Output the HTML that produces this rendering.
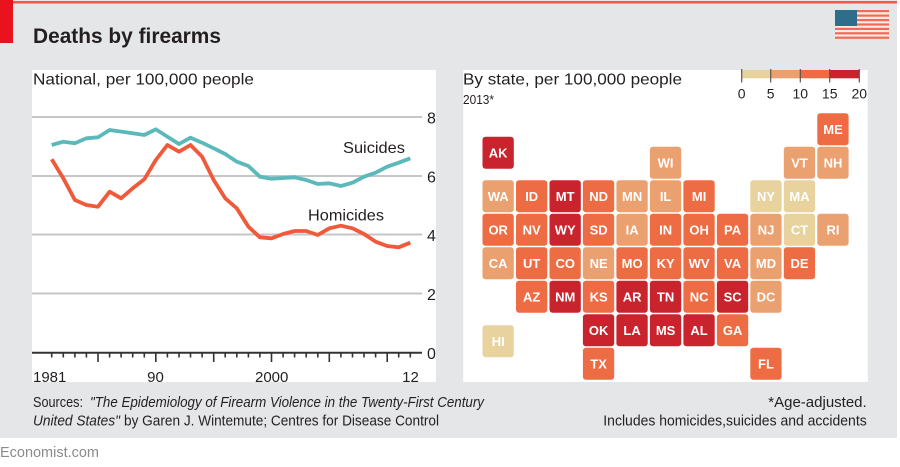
<!DOCTYPE html>
<html><head><meta charset="utf-8"><style>
html,body{margin:0;padding:0;background:#fff;}
svg{display:block;font-family:"Liberation Sans",sans-serif;}
</style></head><body>
<svg width="900" height="467" viewBox="0 0 900 467" xmlns="http://www.w3.org/2000/svg">
<rect x="0" y="0" width="900" height="467" fill="#ffffff"/>
<rect x="0" y="0" width="897" height="438" fill="#e5e6e8"/>
<rect x="0" y="1" width="897" height="2.5" fill="#ef5a4d"/>
<rect x="0" y="0" width="13" height="43" fill="#e8131d"/>
<!-- flag -->
<g>
<rect x="835" y="10" width="54" height="29" fill="#fbe9e5"/>
<g fill="#f06a55">
<rect x="835" y="10" width="54" height="2.2"/><rect x="835" y="14.5" width="54" height="2.2"/><rect x="835" y="19" width="54" height="2.2"/><rect x="835" y="23.4" width="54" height="2.2"/><rect x="835" y="27.8" width="54" height="2.2"/><rect x="835" y="32.2" width="54" height="2.2"/><rect x="835" y="36.6" width="54" height="2.2"/>
</g>
<rect x="835" y="10" width="22" height="16" fill="#2f6d8c"/>
</g>
<text x="33" y="43" font-size="21" font-weight="bold" fill="#231f20" textLength="188" lengthAdjust="spacingAndGlyphs">Deaths by firearms</text>

<!-- left panel -->
<rect x="32" y="70" width="404" height="312" fill="#ffffff"/>
<text x="33" y="84.5" font-size="16" fill="#231f20" textLength="221" lengthAdjust="spacingAndGlyphs">National, per 100,000 people</text>
<g stroke="#c6c6c6" stroke-width="2">
<line x1="32" y1="117" x2="422" y2="117"/>
<line x1="32" y1="176" x2="422" y2="176"/>
<line x1="32" y1="234.5" x2="422" y2="234.5"/>
<line x1="32" y1="293.5" x2="422" y2="293.5"/>
</g>
<g font-size="16" fill="#231f20" text-anchor="middle">
<text x="431.5" y="123.3">8</text>
<text x="431.5" y="182.3">6</text>
<text x="431.5" y="240.8">4</text>
<text x="431.5" y="299.8">2</text>
<text x="431.5" y="358.8">0</text>
</g>
<polyline fill="none" stroke="#5bb8bb" stroke-width="3.8" stroke-linejoin="round" points="51.7,145 63.3,141.7 74.9,143.3 86.4,138.3 98,137.3 109.6,130 121.1,131.6 132.7,133.2 144.3,135 155.8,129.3 167.4,136.7 179,144 190.5,137.7 202.1,142.7 213.7,148.3 225.2,154 236.8,161.7 248.4,166 259.9,176.7 271.5,178.7 283.1,178 294.6,177.3 306.2,180 317.8,184 329.3,183.3 340.9,186 352.5,182.7 364,176.7 375.6,172.7 387.2,166.7 398.7,162.7 410.3,158.3"/>
<polyline fill="none" stroke="#f05a3b" stroke-width="3.8" stroke-linejoin="round" points="51.7,159.3 63.3,178.3 74.9,200 86.4,205 98,206.7 109.6,191.7 121.1,198.3 132.7,188.3 144.3,179.3 155.8,160 167.4,145 179,151.7 190.5,145 202.1,156.7 213.7,180 225.2,198.3 236.8,208.3 248.4,226.7 259.9,237.3 271.5,238.3 283.1,234 294.6,231 306.2,231 317.8,235 329.3,228.3 340.9,225.7 352.5,228.3 364,234 375.6,241.7 387.2,246 398.7,247.3 410.3,242.7"/>
<text x="343" y="153" font-size="16" fill="#231f20" textLength="62" lengthAdjust="spacingAndGlyphs">Suicides</text>
<text x="308" y="220.7" font-size="16" fill="#231f20" textLength="76" lengthAdjust="spacingAndGlyphs">Homicides</text>
<line x1="32" y1="352.7" x2="422" y2="352.7" stroke="#333" stroke-width="2"/>
<g stroke="#333" stroke-width="1.6">
<line x1="51.7" y1="352" x2="51.7" y2="357.5"/><line x1="63.3" y1="352" x2="63.3" y2="357.5"/><line x1="74.9" y1="352" x2="74.9" y2="357.5"/><line x1="86.4" y1="352" x2="86.4" y2="357.5"/><line x1="98" y1="352" x2="98" y2="362"/>
<line x1="109.6" y1="352" x2="109.6" y2="357.5"/><line x1="121.1" y1="352" x2="121.1" y2="357.5"/><line x1="132.7" y1="352" x2="132.7" y2="357.5"/><line x1="144.3" y1="352" x2="144.3" y2="357.5"/><line x1="155.8" y1="352" x2="155.8" y2="362"/>
<line x1="167.4" y1="352" x2="167.4" y2="357.5"/><line x1="179" y1="352" x2="179" y2="357.5"/><line x1="190.5" y1="352" x2="190.5" y2="357.5"/><line x1="202.1" y1="352" x2="202.1" y2="357.5"/><line x1="213.7" y1="352" x2="213.7" y2="362"/>
<line x1="225.2" y1="352" x2="225.2" y2="357.5"/><line x1="236.8" y1="352" x2="236.8" y2="357.5"/><line x1="248.4" y1="352" x2="248.4" y2="357.5"/><line x1="259.9" y1="352" x2="259.9" y2="357.5"/><line x1="271.5" y1="352" x2="271.5" y2="362"/>
<line x1="283.1" y1="352" x2="283.1" y2="357.5"/><line x1="294.6" y1="352" x2="294.6" y2="357.5"/><line x1="306.2" y1="352" x2="306.2" y2="357.5"/><line x1="317.8" y1="352" x2="317.8" y2="357.5"/><line x1="329.3" y1="352" x2="329.3" y2="362"/>
<line x1="340.9" y1="352" x2="340.9" y2="357.5"/><line x1="352.5" y1="352" x2="352.5" y2="357.5"/><line x1="364" y1="352" x2="364" y2="357.5"/><line x1="375.6" y1="352" x2="375.6" y2="357.5"/><line x1="387.2" y1="352" x2="387.2" y2="362"/>
<line x1="398.7" y1="352" x2="398.7" y2="357.5"/><line x1="410.3" y1="352" x2="410.3" y2="357.5"/>
</g>
<g font-size="15" fill="#231f20">
<text x="33" y="382">1981</text>
<text x="155.5" y="382" text-anchor="middle">90</text>
<text x="271.7" y="382" text-anchor="middle">2000</text>
<text x="410.5" y="382" text-anchor="middle">12</text>
</g>

<!-- right panel -->
<rect x="463.3" y="70" width="404.4" height="312" fill="#ffffff"/>
<text x="463" y="84.5" font-size="16" fill="#231f20" textLength="219" lengthAdjust="spacingAndGlyphs">By state, per 100,000 people</text>
<text x="463" y="104" font-size="13" fill="#231f20" textLength="31" lengthAdjust="spacingAndGlyphs">2013*</text>
<rect x="741.7" y="70" width="29" height="8.3" fill="#e8d39f"/>
<rect x="770.7" y="70" width="29.6" height="8.3" fill="#eaa06f"/>
<rect x="800.3" y="70" width="29.4" height="8.3" fill="#ee6c43"/>
<rect x="829.7" y="70" width="29.6" height="8.3" fill="#c9232d"/>
<g stroke="#555" stroke-width="1.2">
<line x1="741.7" y1="69" x2="741.7" y2="82.5"/><line x1="770.7" y1="69" x2="770.7" y2="82.5"/><line x1="800.3" y1="69" x2="800.3" y2="82.5"/><line x1="829.7" y1="69" x2="829.7" y2="82.5"/><line x1="859.3" y1="69" x2="859.3" y2="82.5"/>
</g>
<g font-size="14" fill="#231f20" text-anchor="middle">
<text x="741.7" y="98.5">0</text><text x="770.7" y="98.5">5</text><text x="800.3" y="98.5">10</text><text x="829.7" y="98.5">15</text><text x="859.3" y="98.5">20</text>
</g>

<g font-size="13" font-weight="bold" fill="#ffffff" text-anchor="middle">
<!-- tile: x=482.5+i*33.48, y=113.3+j*33.5 -->
<rect x="817.3" y="113.3" width="31.3" height="32" rx="3" fill="#ee6c43"/><text x="833" y="134">ME</text>
<rect x="482.5" y="136.7" width="31.3" height="32" rx="3" fill="#c9232d"/><text x="498.2" y="157.4">AK</text>

<rect x="649.9" y="146.8" width="31.3" height="32" rx="3" fill="#eaa06f"/><text x="665.6" y="167.5">WI</text>
<rect x="783.8" y="146.8" width="31.3" height="32" rx="3" fill="#eaa06f"/><text x="799.5" y="167.5">VT</text>
<rect x="817.3" y="146.8" width="31.3" height="32" rx="3" fill="#eaa06f"/><text x="833" y="167.5">NH</text>

<rect x="482.5" y="180.3" width="31.3" height="32" rx="3" fill="#eaa06f"/><text x="498.2" y="201">WA</text>
<rect x="516" y="180.3" width="31.3" height="32" rx="3" fill="#ee6c43"/><text x="531.7" y="201">ID</text>
<rect x="549.5" y="180.3" width="31.3" height="32" rx="3" fill="#c9232d"/><text x="565.2" y="201">MT</text>
<rect x="582.9" y="180.3" width="31.3" height="32" rx="3" fill="#ee6c43"/><text x="598.6" y="201">ND</text>
<rect x="616.4" y="180.3" width="31.3" height="32" rx="3" fill="#eaa06f"/><text x="632.1" y="201">MN</text>
<rect x="649.9" y="180.3" width="31.3" height="32" rx="3" fill="#eaa06f"/><text x="665.6" y="201">IL</text>
<rect x="683.4" y="180.3" width="31.3" height="32" rx="3" fill="#ee6c43"/><text x="699.1" y="201">MI</text>
<rect x="750.3" y="180.3" width="31.3" height="32" rx="3" fill="#e8d39f"/><text x="766" y="201">NY</text>
<rect x="783.8" y="180.3" width="31.3" height="32" rx="3" fill="#e8d39f"/><text x="799.5" y="201">MA</text>

<rect x="482.5" y="213.8" width="31.3" height="32" rx="3" fill="#ee6c43"/><text x="498.2" y="234.5">OR</text>
<rect x="516" y="213.8" width="31.3" height="32" rx="3" fill="#ee6c43"/><text x="531.7" y="234.5">NV</text>
<rect x="549.5" y="213.8" width="31.3" height="32" rx="3" fill="#c9232d"/><text x="565.2" y="234.5">WY</text>
<rect x="582.9" y="213.8" width="31.3" height="32" rx="3" fill="#ee6c43"/><text x="598.6" y="234.5">SD</text>
<rect x="616.4" y="213.8" width="31.3" height="32" rx="3" fill="#eaa06f"/><text x="632.1" y="234.5">IA</text>
<rect x="649.9" y="213.8" width="31.3" height="32" rx="3" fill="#ee6c43"/><text x="665.6" y="234.5">IN</text>
<rect x="683.4" y="213.8" width="31.3" height="32" rx="3" fill="#ee6c43"/><text x="699.1" y="234.5">OH</text>
<rect x="716.9" y="213.8" width="31.3" height="32" rx="3" fill="#ee6c43"/><text x="732.6" y="234.5">PA</text>
<rect x="750.3" y="213.8" width="31.3" height="32" rx="3" fill="#eaa06f"/><text x="766" y="234.5">NJ</text>
<rect x="783.8" y="213.8" width="31.3" height="32" rx="3" fill="#e8d39f"/><text x="799.5" y="234.5">CT</text>
<rect x="817.3" y="213.8" width="31.3" height="32" rx="3" fill="#eaa06f"/><text x="833" y="234.5">RI</text>

<rect x="482.5" y="247.3" width="31.3" height="32" rx="3" fill="#eaa06f"/><text x="498.2" y="268">CA</text>
<rect x="516" y="247.3" width="31.3" height="32" rx="3" fill="#ee6c43"/><text x="531.7" y="268">UT</text>
<rect x="549.5" y="247.3" width="31.3" height="32" rx="3" fill="#ee6c43"/><text x="565.2" y="268">CO</text>
<rect x="582.9" y="247.3" width="31.3" height="32" rx="3" fill="#eaa06f"/><text x="598.6" y="268">NE</text>
<rect x="616.4" y="247.3" width="31.3" height="32" rx="3" fill="#ee6c43"/><text x="632.1" y="268">MO</text>
<rect x="649.9" y="247.3" width="31.3" height="32" rx="3" fill="#ee6c43"/><text x="665.6" y="268">KY</text>
<rect x="683.4" y="247.3" width="31.3" height="32" rx="3" fill="#ee6c43"/><text x="699.1" y="268">WV</text>
<rect x="716.9" y="247.3" width="31.3" height="32" rx="3" fill="#ee6c43"/><text x="732.6" y="268">VA</text>
<rect x="750.3" y="247.3" width="31.3" height="32" rx="3" fill="#eaa06f"/><text x="766" y="268">MD</text>
<rect x="783.8" y="247.3" width="31.3" height="32" rx="3" fill="#ee6c43"/><text x="799.5" y="268">DE</text>

<rect x="516" y="280.8" width="31.3" height="32" rx="3" fill="#ee6c43"/><text x="531.7" y="301.5">AZ</text>
<rect x="549.5" y="280.8" width="31.3" height="32" rx="3" fill="#c9232d"/><text x="565.2" y="301.5">NM</text>
<rect x="582.9" y="280.8" width="31.3" height="32" rx="3" fill="#ee6c43"/><text x="598.6" y="301.5">KS</text>
<rect x="616.4" y="280.8" width="31.3" height="32" rx="3" fill="#c9232d"/><text x="632.1" y="301.5">AR</text>
<rect x="649.9" y="280.8" width="31.3" height="32" rx="3" fill="#c9232d"/><text x="665.6" y="301.5">TN</text>
<rect x="683.4" y="280.8" width="31.3" height="32" rx="3" fill="#ee6c43"/><text x="699.1" y="301.5">NC</text>
<rect x="716.9" y="280.8" width="31.3" height="32" rx="3" fill="#c9232d"/><text x="732.6" y="301.5">SC</text>
<rect x="750.3" y="280.8" width="31.3" height="32" rx="3" fill="#eaa06f"/><text x="766" y="301.5">DC</text>

<rect x="582.9" y="314.3" width="31.3" height="32" rx="3" fill="#c9232d"/><text x="598.6" y="335">OK</text>
<rect x="616.4" y="314.3" width="31.3" height="32" rx="3" fill="#c9232d"/><text x="632.1" y="335">LA</text>
<rect x="649.9" y="314.3" width="31.3" height="32" rx="3" fill="#c9232d"/><text x="665.6" y="335">MS</text>
<rect x="683.4" y="314.3" width="31.3" height="32" rx="3" fill="#c9232d"/><text x="699.1" y="335">AL</text>
<rect x="716.9" y="314.3" width="31.3" height="32" rx="3" fill="#ee6c43"/><text x="732.6" y="335">GA</text>
<rect x="482.5" y="325.3" width="31.3" height="32" rx="3" fill="#e8d39f"/><text x="498.2" y="346">HI</text>

<rect x="582.9" y="347.8" width="31.3" height="32" rx="3" fill="#ee6c43"/><text x="598.6" y="368.5">TX</text>
<rect x="750.3" y="347.8" width="31.3" height="32" rx="3" fill="#ee6c43"/><text x="766" y="368.5">FL</text>
</g>

<!-- footer -->
<g font-size="15" fill="#231f20">
<text x="33" y="407" textLength="50" lengthAdjust="spacingAndGlyphs">Sources:</text>
<text x="90" y="407" font-style="italic" textLength="394" lengthAdjust="spacingAndGlyphs">"The Epidemiology of Firearm Violence in the Twenty-First Century</text>
<text x="33" y="425.5" font-style="italic" textLength="87" lengthAdjust="spacingAndGlyphs">United States"</text>
<text x="124" y="425.5" textLength="315" lengthAdjust="spacingAndGlyphs">by Garen J. Wintemute; Centres for Disease Control</text>
<text x="866.7" y="407" text-anchor="end">*Age-adjusted.</text>
<text x="603.3" y="425.5" textLength="263.4" lengthAdjust="spacingAndGlyphs">Includes homicides,suicides and accidents</text>
</g>
<text x="0" y="457" font-size="15" fill="#8a8a8a" textLength="99" lengthAdjust="spacingAndGlyphs">Economist.com</text>
</svg>
</body></html>
